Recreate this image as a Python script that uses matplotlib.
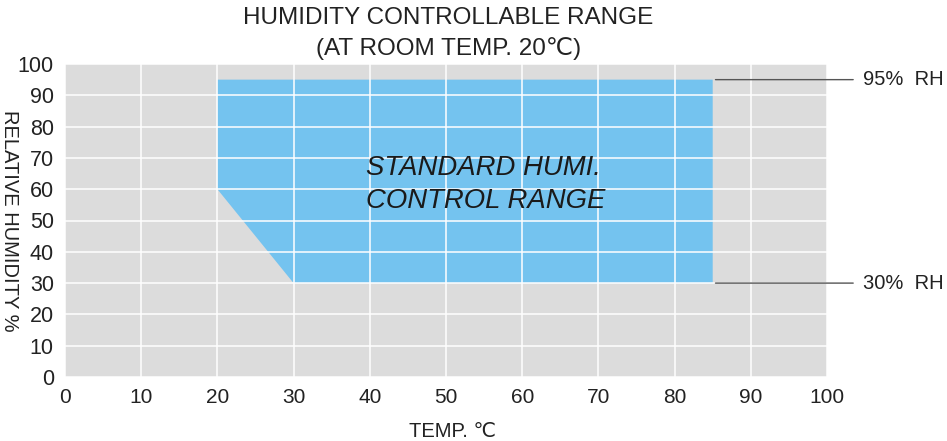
import matplotlib
matplotlib.use("Agg")
import matplotlib.pyplot as plt

plt.rcParams["font.family"] = ["Liberation Sans", "DejaVu Sans"]

# controllable range outline (temp degC, RH %)
range_temp = [20, 85, 85, 30, 20]
range_rh = [95, 95, 30, 30, 60]

x_ticks = list(range(0, 101, 10))
y_ticks = list(range(0, 101, 10))

limit_labels = ["95%  RH", "30%  RH"]
limit_values = [95, 30]
limit_temp = 85

fig = plt.figure(figsize=(9.47, 4.41), dpi=100)
ax = fig.add_axes([0.0686, 0.1451, 0.8047, 0.7098])

ax.set_facecolor("#dcdcdc")
ax.fill(range_temp, range_rh, color="#74c3ef", zorder=1, lw=0)

ax.set_xlim(0, 100)
ax.set_ylim(0, 100)
ax.set_xticks(x_ticks)
ax.set_yticks(y_ticks)
ax.grid(True, color="white", linewidth=1.1, zorder=2)
ax.set_axisbelow(False)
for s in ax.spines.values():
    s.set_visible(False)
ax.tick_params(length=0, colors="#222222")
ax.tick_params(axis="x", labelsize=15, pad=8)
ax.tick_params(axis="y", labelsize=15.5, pad=8)

ax.text(39.5, 61.5, "STANDARD HUMI.\nCONTROL RANGE", fontsize=19.8,
        style="italic", color="#1a1a1a", va="center", ha="left",
        linespacing=1.32, zorder=3)

for lab, val in zip(limit_labels, limit_values):
    ax.annotate("", xy=(limit_temp, val), xytext=(103.8, val),
                arrowprops=dict(arrowstyle="-", color="#555555", lw=1),
                annotation_clip=False)
    ax.text(104.7, val, lab, fontsize=14.5, va="center", ha="left",
            color="#222222", clip_on=False)

fig.text(0.473, 0.960, "HUMIDITY CONTROLLABLE RANGE", fontsize=17.5,
         ha="center", va="center", color="#222222")
fig.text(0.474, 0.891, "(AT ROOM TEMP. 20\u2103)", fontsize=17.5,
         ha="center", va="center", color="#222222")

ax.set_xlabel("TEMP. \u2103", fontsize=14.5, color="#222222")
ax.set_ylabel("RELATIVE HUMIDITY %", fontsize=14.5, color="#222222",
              rotation=-90)
ax.yaxis.set_label_coords(-0.085, 0.5)
ax.xaxis.set_label_coords(0.508, -0.145)

fig.savefig("out.png", dpi=100, facecolor="white")
